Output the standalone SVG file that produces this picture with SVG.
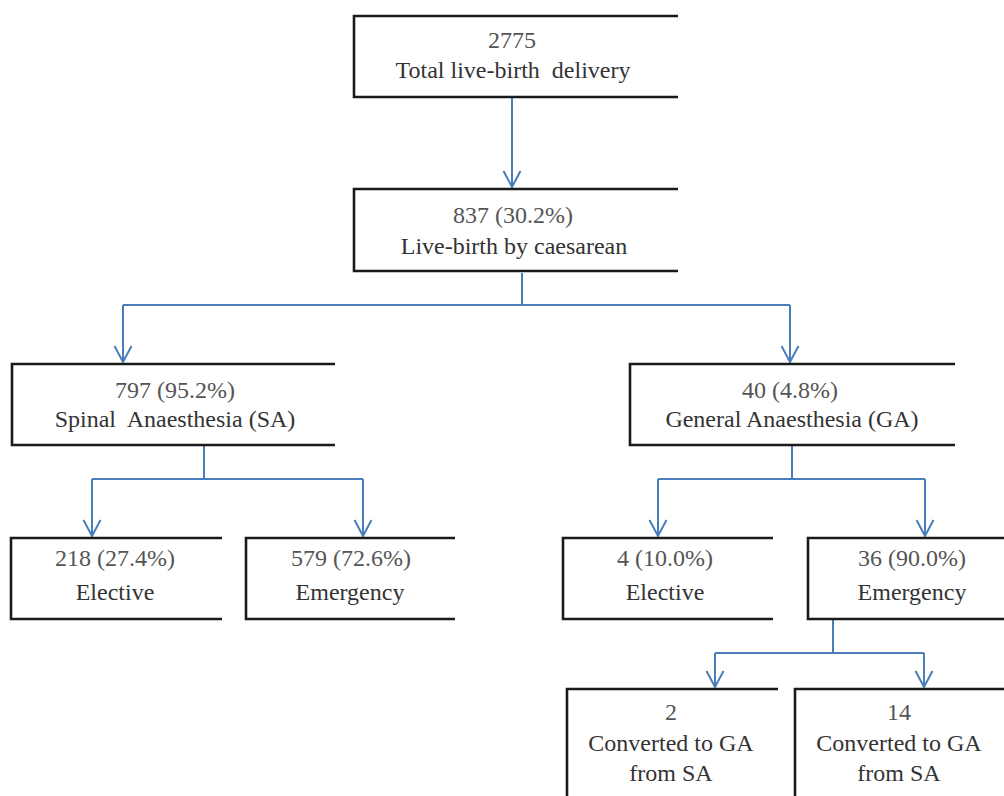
<svg xmlns="http://www.w3.org/2000/svg" width="1004" height="796" viewBox="0 0 1004 796">
<style>
.bd{fill:none;stroke:#1a1a1a;stroke-width:2.6}
.t{font-family:"Liberation Serif","Times New Roman",serif;font-size:24px;fill:#333;text-anchor:middle}
.n{fill:#555}
.c{fill:none;stroke:#4a7ebb;stroke-width:2}
</style>
<defs>
<marker id="arr" viewBox="0 0 20 20" refX="18" refY="10" markerWidth="20" markerHeight="20" markerUnits="userSpaceOnUse" orient="auto">
<path d="M2,1.5 L18,10 L2,18.5" fill="none" stroke="#4a7ebb" stroke-width="2"/>
</marker>
</defs>
<g id="connectors">
<path class="c" d="M512,98 V187" marker-end="url(#arr)"/>
<path class="c" d="M522,273 V305"/>
<path class="c" d="M123,305 H790"/>
<path class="c" d="M123,305 V362" marker-end="url(#arr)"/>
<path class="c" d="M790,305 V362" marker-end="url(#arr)"/>
<path class="c" d="M204,446 V479"/>
<path class="c" d="M92,479 H363"/>
<path class="c" d="M92,479 V536" marker-end="url(#arr)"/>
<path class="c" d="M363,479 V536" marker-end="url(#arr)"/>
<path class="c" d="M792,446 V479"/>
<path class="c" d="M658,479 H925"/>
<path class="c" d="M658,479 V536" marker-end="url(#arr)"/>
<path class="c" d="M925,479 V536" marker-end="url(#arr)"/>
<path class="c" d="M833,620 V653"/>
<path class="c" d="M715,653 H924"/>
<path class="c" d="M715,653 V687" marker-end="url(#arr)"/>
<path class="c" d="M924,653 V687" marker-end="url(#arr)"/>
</g>
<g id="n_total">
<path class="bd" d="M678,16 H354 V97 H678"/>
<text class="t n" x="512" y="48">2775</text>
<text class="t" x="513" y="78" xml:space="preserve">Total live-birth  delivery</text>
</g>
<g id="n_caesarean">
<path class="bd" d="M678,189 H354 V271 H678"/>
<text class="t n" x="513" y="223">837 (30.2%)</text>
<text class="t" x="514" y="254">Live-birth by caesarean</text>
</g>
<g id="n_sa">
<path class="bd" d="M335,364 H12 V445 H335"/>
<text class="t n" x="175" y="398">797 (95.2%)</text>
<text class="t" x="175" y="427" xml:space="preserve">Spinal  Anaesthesia (SA)</text>
</g>
<g id="n_ga">
<path class="bd" d="M955,364 H630 V445 H955"/>
<text class="t n" x="790" y="398">40 (4.8%)</text>
<text class="t" x="792" y="427">General Anaesthesia (GA)</text>
</g>
<g id="n_sa_elective">
<path class="bd" d="M222,538 H11 V619 H222"/>
<text class="t n" x="115" y="566">218 (27.4%)</text>
<text class="t" x="115" y="600">Elective</text>
</g>
<g id="n_sa_emergency">
<path class="bd" d="M455,538 H246 V619 H455"/>
<text class="t n" x="351" y="566">579 (72.6%)</text>
<text class="t" x="350" y="600">Emergency</text>
</g>
<g id="n_ga_elective">
<path class="bd" d="M773,538 H563 V619 H773"/>
<text class="t n" x="665" y="566">4 (10.0%)</text>
<text class="t" x="665" y="600">Elective</text>
</g>
<g id="n_ga_emergency">
<path class="bd" d="M1004,538 H808 V619 H1004"/>
<text class="t n" x="912" y="566">36 (90.0%)</text>
<text class="t" x="912" y="600">Emergency</text>
</g>
<g id="n_conv2">
<path class="bd" d="M778,689 H567 V796"/>
<text class="t n" x="671" y="720">2</text>
<text class="t" x="671" y="751">Converted to GA</text>
<text class="t" x="671" y="781">from SA</text>
</g>
<g id="n_conv14">
<path class="bd" d="M1004,689 H795 V796"/>
<text class="t n" x="899" y="720">14</text>
<text class="t" x="899" y="751">Converted to GA</text>
<text class="t" x="899" y="781">from SA</text>
</g>
</svg>
